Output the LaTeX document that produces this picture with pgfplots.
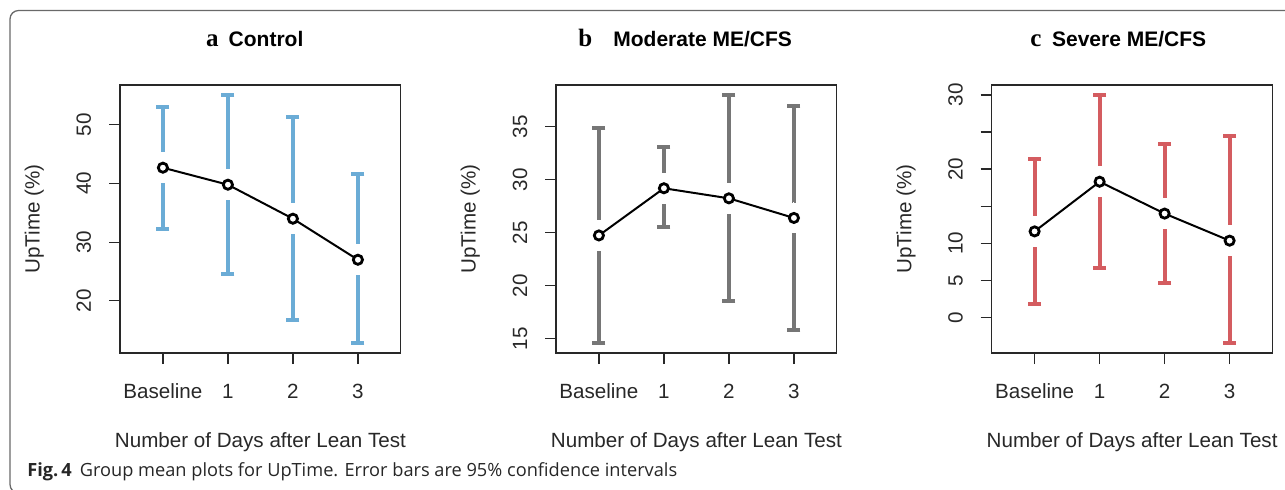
\documentclass[border=0pt]{standalone}
\usepackage{fontspec}
\setmainfont{Liberation Sans}
\newfontfamily\serifbf{Liberation Serif}
\newfontfamily\capfont{Open Sans}
\usepackage{pgfplots}
\usepackage{pgfplotstable}
\pgfplotsset{compat=1.18}
\definecolor{cblue}{RGB}{107,172,214}
\definecolor{cgray}{RGB}{118,118,118}
\definecolor{cred}{RGB}{212,92,96}
\definecolor{framec}{RGB}{105,105,105}
\definecolor{axc}{RGB}{40,40,40}

\pgfplotstableread{
x mean lo hi
0 42.7 32.3 53.0
1 39.8 24.5 55.1
2 34.0 16.8 51.4
3 27.0 12.8 41.6
}\dataA
\pgfplotstableread{
x mean lo hi
0 24.75 14.6 34.9
1 29.2 25.5 33.1
2 28.25 18.55 38.0
3 26.4 15.8 36.95
}\dataB
\pgfplotstableread{
x mean lo hi
0 11.6 1.8 21.3
1 18.3 6.7 30.0
2 14.0 4.6 23.4
3 10.35 -3.45 24.5
}\dataC

\pgfplotsset{
  rstyle/.style={
    scale only axis, width=140.4pt, height=134pt, anchor=south west,
    xmin=-0.66, xmax=3.66, xtick={0,1,2,3}, xticklabels={Baseline,1,2,3},
    tick align=outside, major tick length=5.5pt,
    tick style={line width=0.6pt, color=axc},
    axis line style={line width=0.6pt, color=axc},
    xtick pos=lower, ytick pos=left,
    /pgf/number format/assume math mode=true,
    tick label style={font=\fontsize{10.3}{12}\selectfont, color=axc},
    label style={font=\fontsize{10.3}{12}\selectfont, color=axc},
    yticklabel style={rotate=90, anchor=base, inner sep=0pt},
    xticklabel style={anchor=base, inner sep=0pt},
    xticklabel shift=17pt, yticklabel shift=9pt,
    xlabel={Number of Days after Lean Test}, ylabel={UpTime (\%)},
    xlabel style={at={(axis description cs:0.5,-0.3534)}, anchor=base, inner sep=0pt},
    ylabel style={at={(axis description cs:-0.2865,0.5)}, anchor=base, inner sep=0pt},
    clip mode=individual, clip=false,
  },
  ebars/.style={draw=none, mark=none, forget plot,
    error bars/.cd, y dir=both, y explicit, error mark=none,
    error bar style={line width=2pt, color=#1}},
  caps/.style={only marks, mark=-, mark size=3.25pt, forget plot,
    mark options={line width=2pt, draw=#1, color=#1}},
  gapdisk/.style={only marks, mark=*, mark size=7.5pt, draw=white, fill=white,
    mark options={fill=white, draw=white, line width=0pt}, forget plot},
  meanline/.style={black, line width=1pt, mark=*, mark size=2.3pt,
    mark options={fill=white, draw=black, line width=1.4pt}},
}

\begin{document}
\begin{tikzpicture}
\path[use as bounding box] (0,0) rectangle (642.5pt,244.5pt);
\draw[framec, line width=0.65pt, rounded corners=4.3pt] (5pt,-2pt) rectangle (700pt,239.25pt);

% panel a
\begin{axis}[rstyle, at={(60pt,68pt)}, ymin=11.1, ymax=56.8, ytick={20,30,40,50}]
\addplot[ebars=cblue] table[x=x, y=mean, y error plus expr=\thisrow{hi}-\thisrow{mean}, y error minus expr=\thisrow{mean}-\thisrow{lo}] {\dataA};
\addplot[caps=cblue] table[x=x, y=hi] {\dataA};
\addplot[caps=cblue] table[x=x, y=lo] {\dataA};
\addplot[gapdisk] table[x=x, y=mean] {\dataA};
\addplot[meanline] table[x=x, y=mean] {\dataA};
\end{axis}

% panel b
\begin{axis}[rstyle, at={(278pt,68pt)}, ymin=13.66, ymax=38.94, ytick={15,20,25,30,35}]
\addplot[ebars=cgray] table[x=x, y=mean, y error plus expr=\thisrow{hi}-\thisrow{mean}, y error minus expr=\thisrow{mean}-\thisrow{lo}] {\dataB};
\addplot[caps=cgray] table[x=x, y=hi] {\dataB};
\addplot[caps=cgray] table[x=x, y=lo] {\dataB};
\addplot[gapdisk] table[x=x, y=mean] {\dataB};
\addplot[meanline] table[x=x, y=mean] {\dataB};
\end{axis}

% panel c
\begin{axis}[rstyle, at={(495.85pt,68pt)}, ymin=-4.8, ymax=31.34, ytick={0,5,10,15,20,25,30}, yticklabels={0,5,10,,20,,30}]
\addplot[ebars=cred] table[x=x, y=mean, y error plus expr=\thisrow{hi}-\thisrow{mean}, y error minus expr=\thisrow{mean}-\thisrow{lo}] {\dataC};
\addplot[caps=cred] table[x=x, y=hi] {\dataC};
\addplot[caps=cred] table[x=x, y=lo] {\dataC};
\addplot[gapdisk] table[x=x, y=mean] {\dataC};
\addplot[meanline] table[x=x, y=mean] {\dataC};
\end{axis}

% titles
\node[anchor=base west, inner sep=0pt] at (102.85pt,221.25pt) {\fontsize{12.5}{14}\serifbf\bfseries a};
\node[anchor=base west, inner sep=0pt] at (114.15pt,221.25pt) {\fontsize{10.5}{12}\selectfont\bfseries Control};
\node[anchor=base west, inner sep=0pt] at (289pt,221.25pt) {\fontsize{12.5}{14}\serifbf\bfseries b};
\node[anchor=base west, inner sep=0pt] at (306.5pt,221.25pt) {\fontsize{10.5}{12}\selectfont\bfseries Moderate ME/CFS};
\node[anchor=base west, inner sep=0pt] at (515pt,221.25pt) {\fontsize{12.5}{14}\serifbf\bfseries c};
\node[anchor=base west, inner sep=0pt] at (525.85pt,221.25pt) {\fontsize{10.5}{12}\selectfont\bfseries Severe ME/CFS};

% caption
\node[anchor=base west, inner sep=0pt, text=black!85] at (13.5pt,6.5pt) {\capfont\fontsize{9.1}{11}\selectfont\textbf{Fig.\,4}\hspace{4pt}Group mean plots for UpTime. Error bars are 95\% confidence intervals};
\end{tikzpicture}
\end{document}
